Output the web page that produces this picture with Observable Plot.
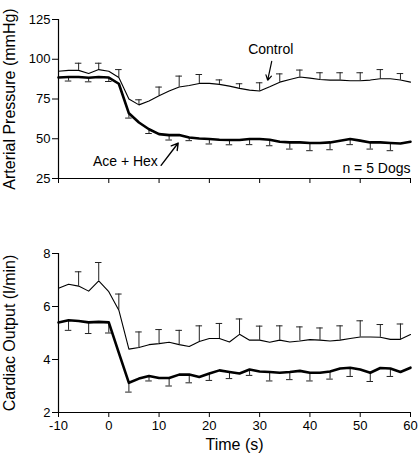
<!DOCTYPE html>
<html>
<head>
<meta charset="utf-8">
<script src="https://cdn.jsdelivr.net/npm/d3@7"></script>
<script src="https://cdn.jsdelivr.net/npm/@observablehq/plot@0.6"></script>
<style>
  html, body { margin: 0; padding: 0; background: #fff; }
  #chart svg { display: block; overflow: visible; }
</style>
</head>
<body>
<div id="chart"></div>
<script>
// ---- data ----
const time = [-10,-8,-6,-4,-2,0,2,4,6,8,10,12,14,16,18,20,22,24,26,28,30,32,34,36,38,40,42,44,46,48,50,52,54,56,58,60];

const mapControl = [92.5,93,93,91,93.5,92.5,88.5,75,71.3,73.8,77,80,82.5,83.5,84.8,84.8,84.2,83.1,81.7,80.6,80,82.7,85.6,87.3,88.8,88.1,87.3,86.9,86.9,86.5,86.5,86.9,87.7,87.7,86.9,85.6];
const mapAceHex  = [88.5,88.8,88.8,88.4,88.8,88.5,84.6,66,60.2,56,52.9,52.3,52.3,50.8,50.2,49.8,49.4,49.2,49.2,49.8,49.8,49.4,48.1,47.7,47.7,47.3,47.3,47.7,48.8,49.8,48.8,47.7,47.7,47.3,47,48.1];

const coControl = [6.69,6.84,6.77,6.58,6.97,6.56,5.86,4.39,4.45,4.56,4.6,4.65,4.56,4.49,4.68,4.79,4.79,4.66,4.95,4.73,4.73,4.65,4.73,4.66,4.7,4.75,4.73,4.7,4.73,4.79,4.85,4.85,4.84,4.76,4.76,4.94];
const coAceHex  = [5.4,5.48,5.45,5.4,5.42,5.4,4.25,3.12,3.28,3.38,3.3,3.3,3.43,3.43,3.34,3.47,3.59,3.53,3.47,3.62,3.55,3.53,3.5,3.53,3.57,3.5,3.5,3.55,3.66,3.69,3.62,3.5,3.68,3.66,3.53,3.69];

// error bars (SEM): control drawn upward, Ace + Hex drawn downward
const errTimesControl = [-6,-2,2,6,10,14,18,22,26,30,34,38,42,46,50,54,58];
const errTimesAceHex  = [-8,-4,0,4,8,12,16,20,24,28,32,36,40,44,48,52,56];
const mapSemControl = [4.5,4,5,3.2,5.5,6.9,5.6,2.8,2.9,5.2,5.2,4.4,4.2,4.6,5,5.8,4.1];
const mapSemAceHex  = [2.5,2.6,2.5,3,2.7,3.1,2,3.1,3,3.5,3.8,4.2,4.8,4.6,3.5,4.2,4.8];
const coSemControl  = [0.54,0.69,0.61,0.59,0.53,0.54,0.59,0.57,0.58,0.53,0.54,0.53,0.46,0.54,0.61,0.48,0.58];
const coSemAceHex   = [0.38,0.42,0.4,0.35,0.19,0.3,0.31,0.26,0.25,0.22,0.34,0.29,0.31,0.29,0.33,0.33,0.3];

const xTicks = [-10,0,10,20,30,40,50,60];
const mapTicks = [25,50,75,100,125];
const coTicks = [2,4,6,8];

// annotations
const labelControl = {text: "Control", t: 32.2, y: 105.9};
const arrowControl = {t1: 32.4, y1: 98.7, t2: 31.6, y2: 86.8};
const labelAce = {text: "Ace + Hex", t: 3.3, y: 35.6};
const arrowAce = {t1: 10.4, y1: 33.3, t2: 13.8, y2: 47.3};
const labelN = {text: "n = 5 Dogs", t: 60, y: 31};

// ---- helpers ----
const FONT = "'Liberation Sans', Arial, Helvetica, sans-serif";
const plain = d => String(d);
const series = (vals) => time.map((t, i) => ({t, v: vals[i]}));
const bars = (times, vals, sems, dir) => times.map((t, i) => {
  const c = vals[time.indexOf(t)];
  return {t, y1: c, y2: c + dir * sems[i]};
});
const CAP = 0.65;
const errMarks = (data) => [
  Plot.ruleX(data, {x: "t", y1: "y1", y2: "y2", stroke: "#222", strokeWidth: 1}),
  Plot.ruleY(data, {y: "y2", x1: d => d.t - CAP, x2: d => d.t + CAP, stroke: "#222", strokeWidth: 1})
];

function panel({height, marginTop, marginBottom, yDomain, yTicks, yLabel, ctrl, ace, ctrlErr, aceErr, showXLabels, extra}) {
  return Plot.plot({
    width: 418, height, marginLeft: 58, marginRight: 8, marginTop, marginBottom,
    style: {fontFamily: FONT, fontSize: "13px", background: "#fff", color: "#000", overflow: "visible"},
    x: {domain: [-10, 60]},
    y: {domain: yDomain},
    marks: [
      Plot.axisY({ticks: yTicks, tickSize: 6, tickPadding: 2, label: null, fontSize: 13, tickFormat: plain}),
      Plot.axisX({ticks: xTicks, tickSize: 5, tickPadding: 3, label: null, fontSize: 13,
                  tickFormat: showXLabels ? plain : (() => "")}),
      Plot.ruleX([-10], {stroke: "#000", strokeWidth: 1.2}),
      Plot.ruleY([yDomain[0]], {stroke: "#000", strokeWidth: 1.2}),
      Plot.text([yLabel], {frameAnchor: "left", rotate: -90, dx: -49, fontSize: 16, textAnchor: "middle"}),
      ...errMarks(ctrlErr),
      ...errMarks(aceErr),
      Plot.line(ctrl, {x: "t", y: "v", stroke: "#000", strokeWidth: 1.1}),
      Plot.line(ace, {x: "t", y: "v", stroke: "#000", strokeWidth: 2.6}),
      ...(extra || [])
    ]
  });
}

const topPanel = panel({
  height: 200, marginTop: 19, marginBottom: 22,
  yDomain: [25, 125], yTicks: mapTicks, yLabel: "Arterial Pressure (mmHg)",
  ctrl: series(mapControl), ace: series(mapAceHex),
  ctrlErr: bars(errTimesControl, mapControl, mapSemControl, 1),
  aceErr: bars(errTimesAceHex, mapAceHex, mapSemAceHex, -1),
  showXLabels: false,
  extra: [
    Plot.text([labelControl], {x: "t", y: "y", text: "text", fontSize: 14}),
    Plot.arrow([arrowControl], {x1: "t1", y1: "y1", x2: "t2", y2: "y2", stroke: "#000", strokeWidth: 1.2, headLength: 7, bend: 0}),
    Plot.text([labelAce], {x: "t", y: "y", text: "text", fontSize: 14}),
    Plot.arrow([arrowAce], {x1: "t1", y1: "y1", x2: "t2", y2: "y2", stroke: "#000", strokeWidth: 1.4, headLength: 8, bend: 0}),
    Plot.text([labelN], {x: "t", y: "y", text: "text", fontSize: 14, textAnchor: "end"})
  ]
});

const bottomPanel = panel({
  height: 260, marginTop: 53, marginBottom: 48,
  yDomain: [2, 8], yTicks: coTicks, yLabel: "Cardiac Output (l/min)",
  ctrl: series(coControl), ace: series(coAceHex),
  ctrlErr: bars(errTimesControl, coControl, coSemControl, 1),
  aceErr: bars(errTimesAceHex, coAceHex, coSemAceHex, -1),
  showXLabels: true,
  extra: [
    Plot.text(["Time (s)"], {frameAnchor: "bottom", dy: 37, fontSize: 16})
  ]
});

document.getElementById("chart").append(topPanel, bottomPanel);
</script>
</body>
</html>
